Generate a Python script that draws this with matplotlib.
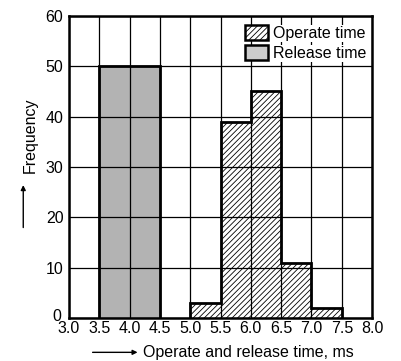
import matplotlib
matplotlib.use("Agg")
import matplotlib.pyplot as plt
from matplotlib.patches import Patch
from matplotlib.transforms import ScaledTranslation

plt.rcParams['font.family'] = ['Liberation Sans', 'DejaVu Sans']
plt.rcParams['hatch.linewidth'] = 0.6

release_bins = [3.5, 4.0]
release_counts = [50, 50]
operate_bins = [5.0, 5.5, 6.0, 6.5, 7.0]
operate_counts = [3, 39, 45, 11, 2]
bin_width = 0.5
xticks = [3.0, 3.5, 4.0, 4.5, 5.0, 5.5, 6.0, 6.5, 7.0, 7.5, 8.0]
yticks = [0, 10, 20, 30, 40, 50, 60]

fig = plt.figure(figsize=(4.01, 3.61), dpi=100)
ax = fig.add_axes([0.172, 0.119, 0.756, 0.837])

ax.bar(release_bins, release_counts, width=bin_width, align='edge',
       color='#b3b3b3', edgecolor='none', zorder=1)
ax.bar(operate_bins, operate_counts, width=bin_width, align='edge',
       color='white', edgecolor='black', hatch='//////', linewidth=0, zorder=1)


def outline(bins, counts):
    xs, ys = [bins[0]], [0]
    for b, c in zip(bins, counts):
        xs += [b, b + bin_width]
        ys += [c, c]
    xs.append(bins[-1] + bin_width)
    ys.append(0)
    ax.plot(xs, ys, color='black', lw=2.0, zorder=3, solid_joinstyle='miter')


outline(release_bins, release_counts)
outline(operate_bins, operate_counts)

ax.set_xlim(3.0, 8.0)
ax.set_ylim(0, 60)
ax.set_xticks(xticks)
ax.set_yticks(yticks)
ax.set_xticklabels([f"{v:.1f}" for v in xticks])
ax.set_yticklabels([str(v) for v in yticks])
ax.tick_params(length=0, labelsize=11.5)
ax.tick_params(axis='x', pad=2)
ax.tick_params(axis='y', pad=4)
ax.grid(True, color='black', lw=0.9, zorder=2)
ax.set_axisbelow(False)
for s in ax.spines.values():
    s.set_linewidth(1.8)
    s.set_zorder(4)

lbl0 = ax.get_yticklabels()[0]
lbl0.set_transform(lbl0.get_transform() + ScaledTranslation(-2 / 100, 3 / 100, fig.dpi_scale_trans))

handles = [Patch(facecolor='white', edgecolor='black', hatch='//////', lw=1.8, label='Operate time'),
           Patch(facecolor='#cccccc', edgecolor='black', lw=1.8, label='Release time')]
leg = ax.legend(handles=handles, loc='upper right', bbox_to_anchor=(0.99, 0.978),
                frameon=False, fontsize=11.5,
                handlelength=1.4, handleheight=1.1, handletextpad=0.35,
                borderaxespad=0.0, borderpad=0.15, labelspacing=0.25)
for t in leg.get_texts():
    t.set_bbox(dict(facecolor='white', edgecolor='none', pad=0.5))
leg.set_zorder(5)

fig.text(0.075, 0.626, 'Frequency', rotation=90, ha='center', va='center', fontsize=11.5)
ax.annotate('', xy=(0.058, 0.495), xytext=(0.058, 0.362), xycoords='figure fraction',
            arrowprops=dict(arrowstyle='-|>', color='black', lw=1.0, mutation_scale=7))
fig.text(0.357, 0.024, 'Operate and release time, ms', ha='left', va='center', fontsize=11.5)
ax.annotate('', xy=(0.35, 0.024), xytext=(0.224, 0.024), xycoords='figure fraction',
            arrowprops=dict(arrowstyle='-|>', color='black', lw=1.0, mutation_scale=7))

fig.savefig('out.png', dpi=100)
